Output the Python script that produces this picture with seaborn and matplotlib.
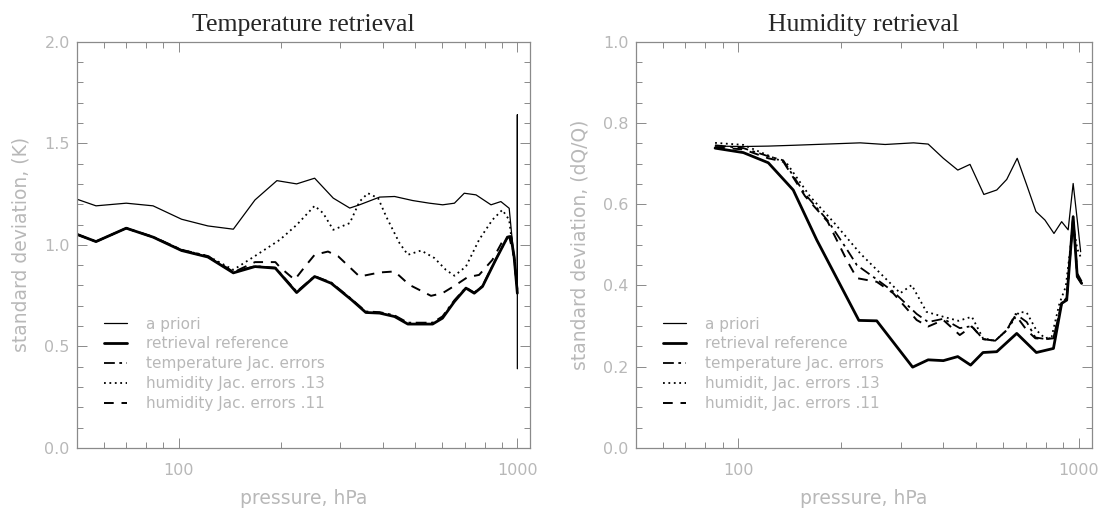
import numpy as np
import pandas as pd
import seaborn as sns
import matplotlib
matplotlib.use("Agg")
import matplotlib.pyplot as plt
from matplotlib.ticker import MultipleLocator, FixedLocator, FixedFormatter, LogLocator, NullFormatter

# ---- temperature retrieval panel (pressure hPa, std dev K)
t_apriori_p = [50, 57, 70, 84, 102, 122, 145, 168, 195, 223, 252, 286, 320, 342, 392, 434, 491, 550,
               602, 652, 697, 755, 836, 894, 946, 1000, 1000, 1000]
t_apriori_v = [1.225, 1.192, 1.205, 1.192, 1.126, 1.093, 1.077, 1.221, 1.316, 1.300, 1.328, 1.230, 1.181,
               1.197, 1.235, 1.238, 1.218, 1.205, 1.197, 1.205, 1.254, 1.246, 1.197, 1.213, 1.180, 0.76, 1.64, 0.39]

t_ref_p = [50, 57, 70, 84, 102, 122, 145, 168, 193, 223, 252, 282, 324, 357, 392, 434, 475, 562, 601,
           652, 705, 746, 789, 863, 935, 957, 978, 1000]
t_ref_v = [1.052, 1.016, 1.082, 1.038, 0.972, 0.940, 0.862, 0.893, 0.885, 0.765, 0.844, 0.811, 0.729, 0.667,
           0.664, 0.647, 0.610, 0.610, 0.639, 0.721, 0.787, 0.762, 0.795, 0.926, 1.038, 1.041, 0.943, 0.762]
t_tjac_v = [1.052, 1.016, 1.082, 1.040, 0.976, 0.945, 0.868, 0.895, 0.888, 0.770, 0.846, 0.815, 0.733, 0.672,
            0.669, 0.653, 0.617, 0.617, 0.648, 0.728, 0.790, 0.765, 0.798, 0.928, 1.036, 1.040, 0.945, 0.765]

t_q13_p = [50, 57, 70, 84, 102, 122, 145, 168, 199, 223, 252, 267, 286, 320, 342, 362, 388, 410, 449, 475,
           520, 569, 615, 652, 705, 771, 844, 903, 946, 967, 990, 1000]
t_q13_v = [1.052, 1.016, 1.082, 1.038, 0.975, 0.945, 0.877, 0.945, 1.025, 1.098, 1.192, 1.156, 1.074, 1.107,
           1.213, 1.254, 1.230, 1.139, 1.008, 0.951, 0.972, 0.935, 0.877, 0.848, 0.893, 1.025, 1.123, 1.172,
           1.123, 0.992, 0.86, 0.80]

t_q11_p = [50, 57, 70, 84, 102, 122, 145, 168, 193, 199, 220, 236, 252, 276, 296, 342, 392, 434, 480, 556,
           601, 652, 713, 771, 844, 903, 946, 978, 1000]
t_q11_v = [1.052, 1.016, 1.082, 1.038, 0.973, 0.941, 0.865, 0.915, 0.915, 0.890, 0.828, 0.893, 0.951, 0.967,
           0.943, 0.844, 0.864, 0.869, 0.803, 0.749, 0.762, 0.798, 0.841, 0.852, 0.926, 1.016, 1.041, 0.94, 0.78]

# ---- humidity retrieval panel (pressure hPa, std dev dQ/Q)
q_apriori_p = [85.5, 103.5, 122.5, 145, 228, 270, 327, 361, 400, 441, 479, 526, 574, 614, 659, 703, 748,
               795, 845, 890, 930, 962, 989, 1012]
q_apriori_v = [0.743, 0.742, 0.743, 0.745, 0.751, 0.747, 0.751, 0.748, 0.713, 0.684, 0.698, 0.624, 0.635,
               0.661, 0.713, 0.647, 0.582, 0.561, 0.528, 0.557, 0.537, 0.651, 0.561, 0.483]

q_ref_p = [85.5, 103.5, 122.5, 145, 170, 226, 255, 325, 361, 400, 441, 481, 523, 574, 657, 750, 842, 890,
           921, 962, 989, 1019]
q_ref_v = [0.738, 0.727, 0.702, 0.635, 0.512, 0.314, 0.313, 0.199, 0.217, 0.215, 0.225, 0.204, 0.235,
           0.237, 0.282, 0.235, 0.245, 0.356, 0.364, 0.569, 0.422, 0.405]

q_q13_p = [85.5, 103.5, 122.5, 139, 162.5, 190, 228, 270, 299, 323, 357, 400, 443, 485, 523, 568, 614,
           668, 703, 750, 795, 832, 877, 915, 962, 989, 1012]
q_q13_v = [0.751, 0.746, 0.72, 0.70, 0.619, 0.557, 0.479, 0.418, 0.381, 0.401, 0.335, 0.323, 0.313, 0.323,
           0.270, 0.264, 0.290, 0.335, 0.333, 0.290, 0.270, 0.274, 0.356, 0.397, 0.55, 0.49, 0.47]

q_q11_p = [85.5, 103.5, 122.5, 135.5, 157, 183, 208, 223, 255, 285, 334, 361, 400, 447, 485, 523, 568, 614,
           652, 703, 745, 800, 842, 890, 921, 962, 989, 1019]
q_q11_v = [0.74, 0.735, 0.713, 0.705, 0.62, 0.557, 0.463, 0.418, 0.409, 0.381, 0.315, 0.299, 0.315, 0.278,
           0.299, 0.268, 0.264, 0.29, 0.327, 0.29, 0.27, 0.268, 0.27, 0.356, 0.364, 0.569, 0.422, 0.405]
q_tjac_v = [0.745, 0.738, 0.718, 0.708, 0.625, 0.56, 0.49, 0.45, 0.415, 0.385, 0.33, 0.31, 0.318, 0.295,
            0.30, 0.268, 0.264, 0.29, 0.33, 0.31, 0.272, 0.268, 0.272, 0.356, 0.37, 0.57, 0.43, 0.41]

labels = ["a priori", "retrieval reference", "temperature Jac. errors",
          "humidit, Jac. errors .13", "humidit, Jac. errors .11"]
t_labels = ["a priori", "retrieval reference", "temperature Jac. errors",
            "humidity Jac. errors .13", "humidity Jac. errors .11"]

# line look per series: (width, dash pattern)
styles = [(0.9, "-"), (2.0, "-"), (1.3, (0, (6, 2.5, 1.5, 2.5))), (1.3, (0, (1, 2))), (1.4, (0, (5, 4)))]

sns.set_style("ticks")
plt.rcParams["font.family"] = ["DejaVu Sans"]
gray = "#b8b8b8"
frame = "#8a8a8a"

fig = plt.figure(figsize=(11.01, 5.12), dpi=100)
ax1 = fig.add_axes([0.0697, 0.125, 0.4117, 0.7936])
ax2 = fig.add_axes([0.5774, 0.125, 0.4141, 0.7936])


def draw(ax, series, labs):
    for (p, v), lab, (lw, ls) in zip(series, labs, styles):
        sns.lineplot(x=p, y=v, ax=ax, color="black", linewidth=lw, linestyle=ls,
                     sort=False, estimator=None, label=lab, legend=False)
    ax.set_xscale("log")
    ax.set_xlim(50, 1090)
    ax.xaxis.set_major_locator(FixedLocator([100, 1000]))
    ax.xaxis.set_major_formatter(FixedFormatter(["100", "1000"]))
    ax.xaxis.set_minor_locator(LogLocator(base=10, subs=np.arange(2, 10)))
    ax.xaxis.set_minor_formatter(NullFormatter())
    ax.tick_params(which="both", direction="in", top=True, right=True, colors=frame,
                   labelcolor=gray, labelsize=11.5, width=0.7)
    ax.tick_params(which="major", length=7, pad=5)
    ax.tick_params(which="minor", length=4)
    ax.tick_params(axis="x", which="major", pad=11)
    for s in ax.spines.values():
        s.set_color(frame)
        s.set_linewidth(0.9)
    ax.set_xlabel("pressure, hPa", color=gray, fontsize=13.5, labelpad=8)
    ax.legend(loc="lower left", bbox_to_anchor=(0.03, 0.057), frameon=False, fontsize=11,
              labelcolor=gray, handlelength=1.5, handletextpad=1.25, labelspacing=0.32)


draw(ax1, [(t_apriori_p, t_apriori_v), (t_ref_p, t_ref_v), (t_ref_p, t_tjac_v),
           (t_q13_p, t_q13_v), (t_q11_p, t_q11_v)], t_labels)
ax1.set_ylim(0, 2.0)
ax1.yaxis.set_major_locator(MultipleLocator(0.5))
ax1.yaxis.set_minor_locator(MultipleLocator(0.1))
ax1.yaxis.set_major_formatter(plt.FormatStrFormatter("%.1f"))
ax1.set_ylabel("standard deviation, (K)", color=gray, fontsize=13.5, labelpad=10)
ax1.set_title("Temperature retrieval", fontsize=18.5, family="Liberation Serif", pad=8)

draw(ax2, [(q_apriori_p, q_apriori_v), (q_ref_p, q_ref_v), (q_q11_p, q_tjac_v),
           (q_q13_p, q_q13_v), (q_q11_p, q_q11_v)], labels)
ax2.set_ylim(0, 1.0)
ax2.yaxis.set_major_locator(MultipleLocator(0.2))
ax2.yaxis.set_minor_locator(MultipleLocator(0.05))
ax2.yaxis.set_major_formatter(plt.FormatStrFormatter("%.1f"))
ax2.set_ylabel("standard deviation, (dQ/Q)", color=gray, fontsize=13.5, labelpad=10)
ax2.set_title("Humidity retrieval", fontsize=18.5, family="Liberation Serif", pad=8)

fig.savefig("out.png", dpi=100, facecolor="white")
